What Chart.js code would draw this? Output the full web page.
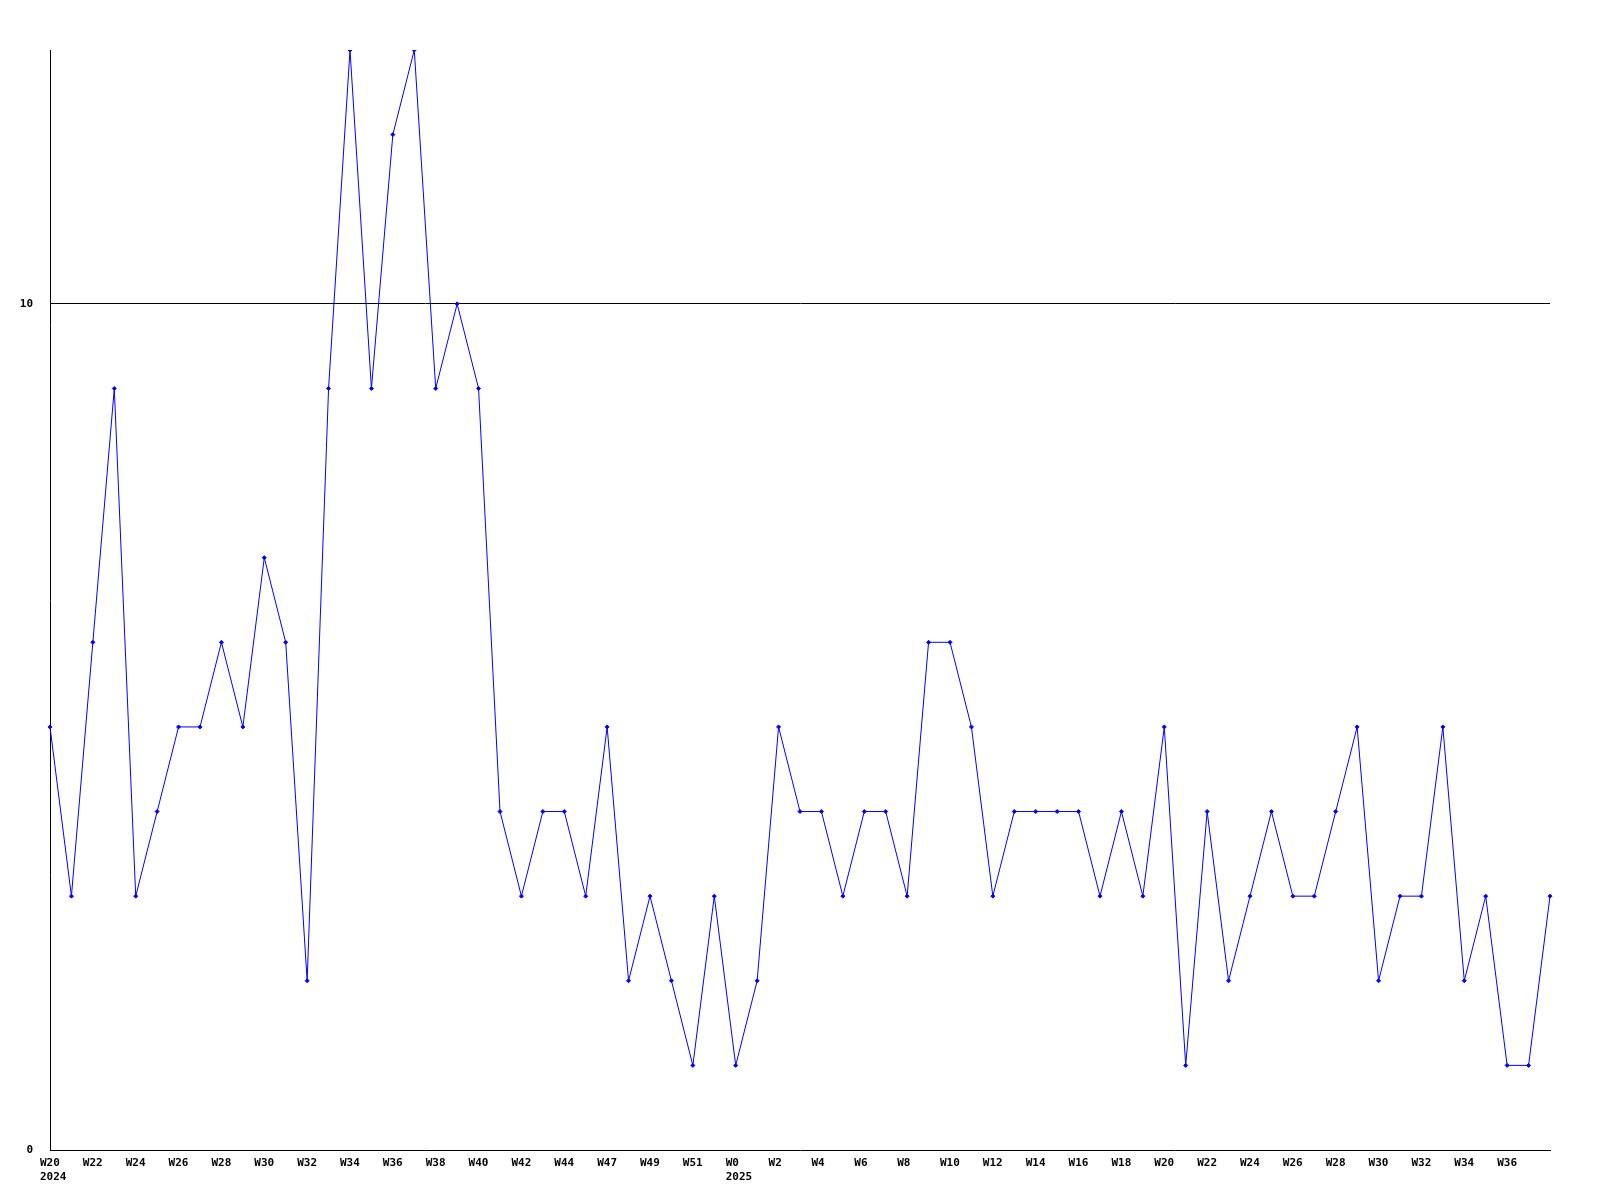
<!DOCTYPE html>
<html>
<head>
<meta charset="utf-8">
<script src="https://cdn.jsdelivr.net/npm/chart.js@4"></script>
<style>
  html, body { margin: 0; padding: 0; background: #fff; }
  #wrap { width: 1600px; height: 1200px; }
</style>
</head>
<body>
<div id="wrap"><canvas id="myChart" width="1600" height="1200"></canvas></div>
<script>
var weeks = ['W20','W21','W22','W23','W24','W25','W26','W27','W28','W29',
             'W30','W31','W32','W33','W34','W35','W36','W37','W38','W39',
             'W40','W41','W42','W43','W44','W45','W47','W48','W49','W50',
             'W51','W52','W0','W1','W2','W3','W4','W5','W6','W7',
             'W8','W9','W10','W11','W12','W13','W14','W15','W16','W17',
             'W18','W19','W20','W21','W22','W23','W24','W25','W26','W27',
             'W28','W29','W30','W31','W32','W33','W34','W35','W36','W37','W38']
var values = [5,3,6,9,3,4,5,5,6,5,
              7,6,2,9,13,9,12,13,9,10,
              9,4,3,4,4,3,5,2,3,2,
              1,3,1,2,5,4,4,3,4,4,
              3,6,6,5,3,4,4,4,4,3,
              4,3,5,1,4,2,3,4,3,3,
              4,5,2,3,3,5,2,3,1,1,3]
var yearIndex = [0, 32]
var yearNames = ['2024', '2025']
var yTicks = [0, 10]

var font = { family: '"DejaVu Sans Mono", monospace', size: 11, weight: 'bold' }

var ctx = document.getElementById('myChart').getContext('2d');
var myChart = new Chart(ctx, {
    type: 'line',
    data: {
        labels: weeks,
        datasets: [{
            data: values,
            borderColor: 'rgb(0,0,255)',
            backgroundColor: 'rgb(0,0,255)',
            borderWidth: 1,
            tension: 0,
            pointStyle: 'rectRot',
            pointRadius: 2,
            pointBorderWidth: 1,
            pointHoverRadius: 2
        }]
    },
    options: {
        responsive: false,
        animation: false,
        layout: { padding: { top: 50, right: 50, left: 0, bottom: 0 } },
        plugins: {
            legend: { display: false },
            tooltip: { enabled: false }
        },
        scales: {
            x: {
                offset: false,
                grid: { display: false, drawTicks: false },
                border: { display: true, color: '#000', width: 1 },
                afterFit: function (s) { s.height = 50 },
                ticks: {
                    autoSkip: false,
                    maxRotation: 0,
                    minRotation: 0,
                    padding: 7,
                    align: 'start',
                    labelOffset: -10,
                    color: '#000',
                    font: font,
                    callback: function (v, i) {
                        // every second week, last point left unlabelled
                        if (i % 2 !== 0 || i === weeks.length - 1) return ''
                        var k = yearIndex.indexOf(i)
                        return k >= 0 ? [weeks[i], yearNames[k]] : weeks[i]
                    }
                }
            },
            y: {
                min: 0,
                max: 13,
                afterBuildTicks: function (s) {
                    s.ticks = yTicks.map(function (v) { return { value: v } })
                },
                afterFit: function (s) { s.width = 50 },
                grid: {
                    drawTicks: false,
                    color: function (c) { return c.tick && c.tick.value === 10 ? '#000' : 'rgba(0,0,0,0)' }
                },
                border: { display: true, color: '#000', width: 1 },
                ticks: {
                    padding: 17,
                    color: '#000',
                    font: font
                }
            }
        }
    }
});
</script>
</body>
</html>
